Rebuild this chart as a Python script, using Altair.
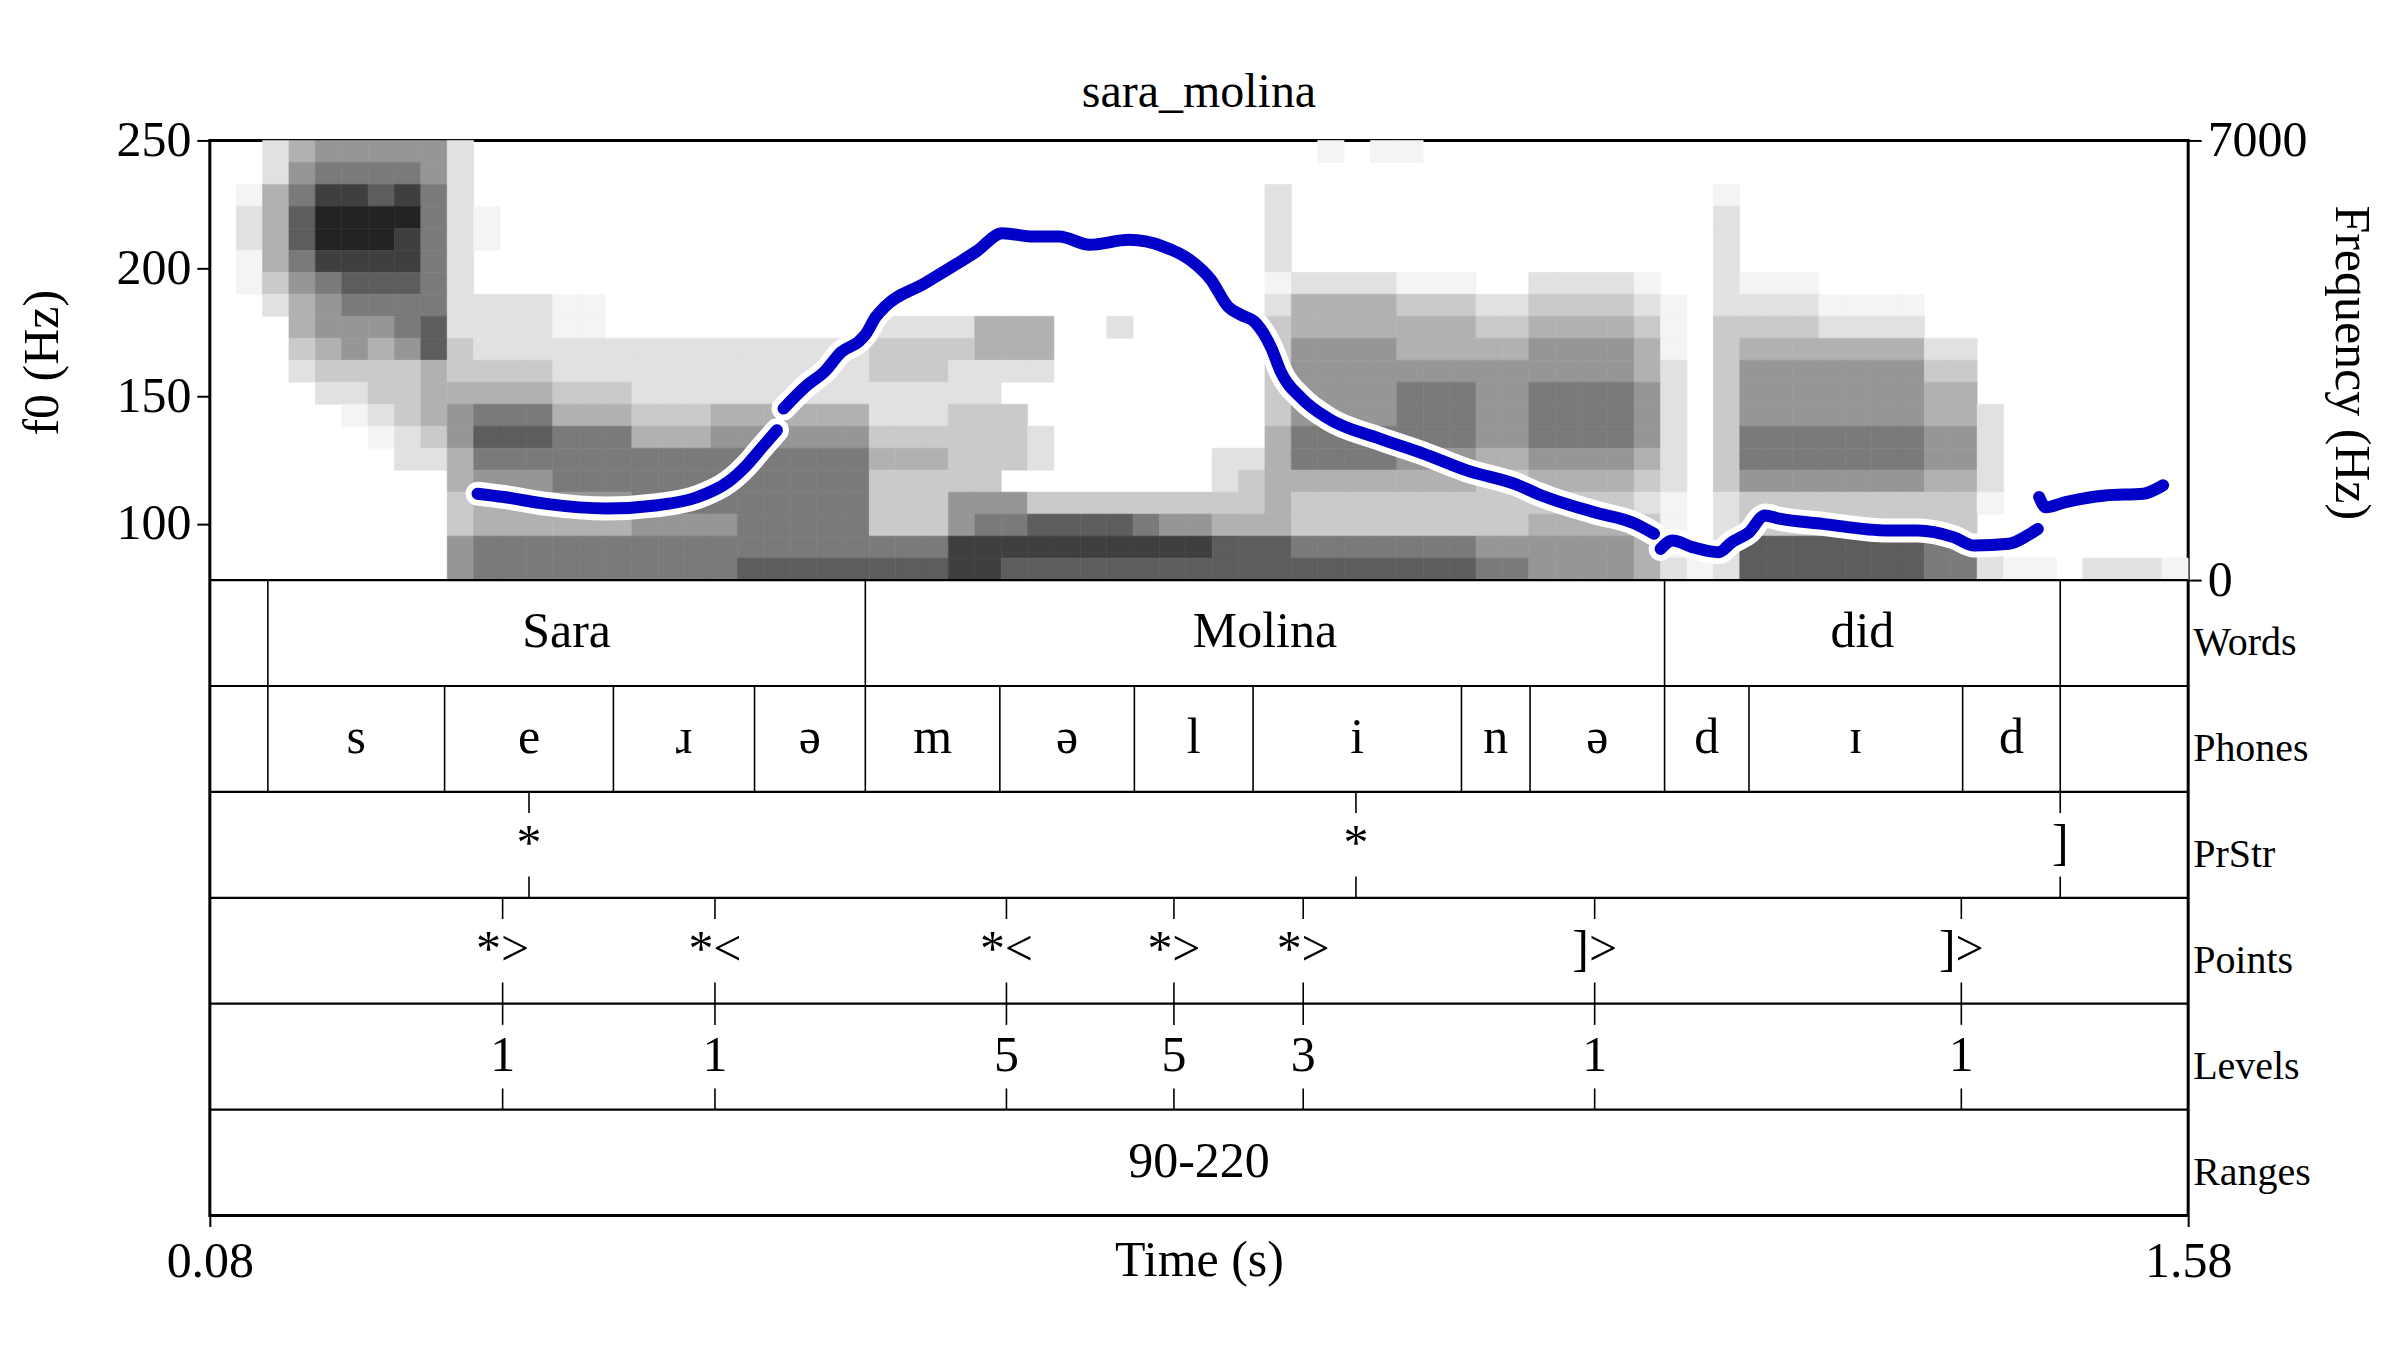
import altair as alt
import pandas as pd

# ---------------- layout constants ----------------
T_START, T_END = 0.08, 1.58
W, H = 1980, 1076
PANEL_H = 440          # pitch / spectrogram panel height (px)
TIER_H = 106           # height of one annotation tier (px)
F0_MIN, F0_MAX = 78, 250
SPEC_MAX = 7000
FONT = "Liberation Serif"
BLUE = "#0000c8"

# ---------------- pitch contour (time s, f0 Hz) ----------------
seg1_t = [0.283, 0.303, 0.335, 0.381, 0.418, 0.450, 0.473, 0.487, 0.500, 0.510]
seg1_f = [111.8, 110.5, 107.8, 106.0, 107.2, 110.5, 116.4, 122.9, 130.7, 136.6]

seg2_t = [0.515, 0.533, 0.546, 0.559, 0.572, 0.577, 0.585, 0.592, 0.622, 0.645,
          0.661, 0.681, 0.704, 0.724, 0.747, 0.777, 0.803, 0.823, 0.839, 0.852,
          0.862, 0.872, 0.885, 0.892, 0.908, 0.928, 0.967, 1.000, 1.033, 1.072,
          1.086, 1.129, 1.161, 1.175]
seg2_f = [145.1, 154.3, 159.5, 167.3, 171.3, 174.0, 181.0, 185.0, 194.1, 201.3,
          206.5, 213.7, 212.4, 212.4, 209.2, 211.1, 208.5, 203.3, 195.5, 185.0,
          181.7, 179.1, 168.6, 159.5, 149.0, 141.2, 133.3, 127.5, 120.9, 115.1,
          111.9, 104.6, 100.0, 96.1]

seg3_t = [1.180, 1.189, 1.204, 1.224, 1.234, 1.247, 1.259, 1.270, 1.303, 1.352,
          1.375, 1.402, 1.418, 1.444, 1.458, 1.466]
seg3_f = [90.2, 93.5, 90.9, 88.9, 92.8, 96.7, 103.3, 102.0, 100.0, 97.4,
          97.4, 94.8, 91.5, 92.2, 95.4, 98.0]

seg4_t = [1.467, 1.472, 1.487, 1.517, 1.546, 1.561]
seg4_f = [110.5, 106.5, 108.5, 111.1, 111.8, 115.1]

# ---------------- spectrogram darkness grid (0-9) ----------------
# columns: 0.02 s bins from 0.08 s; rows: 350 Hz bins, top row = 6650-7000 Hz
SPEC_DT = 0.02
SPEC_DF = 350
spec_rows = [
    "00245 55552 00000 00000 00000 00000 00000 00000 00101 10000 00000 00000 00000 00000 00000",
    "00256 66652 00000 00000 00000 00000 00000 00000 00000 00000 00000 00000 00000 00000 00000",
    "01468 87862 00000 00000 00000 00000 00000 00000 20000 00000 00000 00100 00000 00000 00000",
    "02479 99962 10000 00000 00000 00000 00000 00000 20000 00000 00000 00200 00000 00000 00000",
    "02479 99862 10000 00000 00000 00000 00000 00000 20000 00000 00000 00200 00000 00000 00000",
    "01468 88862 00000 00000 00000 00000 00000 00000 20000 00000 00000 00200 00000 00000 00000",
    "01356 77762 00000 00000 00000 00000 00000 00000 12222 11100 22221 00211 10000 00000 00000",
    "00245 66662 22211 00000 00000 00000 00000 00000 24444 33322 33332 10222 21111 00000 00000",
    "00045 55672 22211 00000 00000 22224 44002 00000 34444 44433 44443 10333 32222 00000 00000",
    "00034 54573 22222 22222 22222 33334 44000 00000 35555 44444 55554 10344 44444 22000 00000",
    "00023 33343 33322 22222 22222 33322 22000 00000 35555 55555 55554 20355 55555 33000 00000",
    "00002 23344 44433 32222 22222 22222 00000 00000 35555 66655 66665 20355 55555 44000 00000",
    "00000 12345 66644 43334 44444 22233 30000 00000 35555 66655 66665 20355 55555 44200 00000",
    "00000 01235 77766 64445 55555 33333 32000 00000 46666 66655 66665 20366 66666 55200 00000",
    "00000 00224 66666 66666 66666 44433 32000 00022 46666 55544 55554 20366 66666 55200 00000",
    "00000 00004 55566 66666 66666 33333 00000 00023 44444 44433 44443 20355 55555 44200 00000",
    "00000 00003 44455 56666 66666 33355 53333 33333 43333 33333 33332 10233 33333 33100 00000",
    "00000 00003 44444 45555 66666 33356 67777 65544 43333 33333 44443 10233 33333 33000 00000",
    "00000 00005 66666 66666 66666 66688 88888 88877 76666 66655 55554 10277 77777 66200 00000",
    "00000 00005 66666 66666 77777 77788 77777 77777 77777 77766 55554 21277 77777 66211 02221",
]

# ---------------- TextGrid tiers ----------------
tier_names = ["Words", "Phones", "PrStr", "Points", "Levels", "Ranges"]

word_bounds = [0.124, 0.577, 1.183, 1.483]
word_labels = ["", "Sara", "Molina", "did", ""]

phone_bounds = [0.124, 0.258, 0.386, 0.493, 0.577, 0.679, 0.781, 0.871,
                1.029, 1.081, 1.183, 1.247, 1.409, 1.483]
phone_labels = ["", "s", "e", "ɹ", "ə", "m", "ə", "l", "i", "n", "ə",
                "d", "ɪ", "d", ""]

prstr_times = [0.322, 0.949, 1.483]
prstr_labels = ["*", "*", "]"]

point_times = [0.302, 0.463, 0.684, 0.811, 0.909, 1.130, 1.408]
point_labels = ["*>", "*<", "*<", "*>", "*>", "]>", "]>"]
level_labels = ["1", "1", "5", "5", "3", "1", "1"]

range_bounds = []
range_labels = ["90-220"]

# ---------------- build tables ----------------
pitch_rows = []
for sid, (ts, fs) in enumerate([(seg1_t, seg1_f), (seg2_t, seg2_f),
                                (seg3_t, seg3_f), (seg4_t, seg4_f)]):
    for t, f in zip(ts, fs):
        pitch_rows.append({"t": t, "f": f, "seg": sid})
pitch_df = pd.DataFrame(pitch_rows)

spec_cells = []
for r, s in enumerate(spec_rows):
    s = s.replace(" ", "")
    assert len(s) == 75, (r, len(s))
    f_hi = SPEC_MAX - r * SPEC_DF
    for k, ch in enumerate(s):
        d = int(ch)
        if d > 0:
            spec_cells.append({"t0": T_START + k * SPEC_DT, "t1": T_START + (k + 1) * SPEC_DT,
                               "f0": f_hi - SPEC_DF, "f1": f_hi, "d": d})
spec_df = pd.DataFrame(spec_cells)

# tier i (0 = Words) occupies [5-i, 6-i] in tier units
def tier_bottom(i):
    return 5 - i

lines, labels = [], []

def add_interval_tier(i, bounds, labs):
    edges = [T_START] + bounds + [T_END]
    for b in bounds:
        lines.append({"t": b, "y0": tier_bottom(i), "y1": tier_bottom(i) + 1})
    for a, b, lab in zip(edges[:-1], edges[1:], labs):
        if lab:
            labels.append({"t": (a + b) / 2, "y": tier_bottom(i) + 0.5, "label": lab})

def add_point_tier(i, times, labs):
    for t, lab in zip(times, labs):
        lines.append({"t": t, "y0": tier_bottom(i) + 0.8, "y1": tier_bottom(i) + 1})
        lines.append({"t": t, "y0": tier_bottom(i), "y1": tier_bottom(i) + 0.2})
        labels.append({"t": t, "y": tier_bottom(i) + 0.5, "label": lab})

add_interval_tier(0, word_bounds, word_labels)
add_interval_tier(1, phone_bounds, phone_labels)
add_point_tier(2, prstr_times, prstr_labels)
add_point_tier(3, point_times, point_labels)
add_point_tier(4, point_times, level_labels)
add_interval_tier(5, range_bounds, range_labels)

lines_df = pd.DataFrame(lines)
labels_df = pd.DataFrame(labels)
sep_df = pd.DataFrame({"y": [1, 2, 3, 4, 5, 6]})
names_df = pd.DataFrame({"y": [tier_bottom(i) + 0.5 for i in range(6)], "name": tier_names})
title_df = pd.DataFrame({"title": ["sara_molina"]})

# ---------------- scales & axes ----------------
xs = alt.Scale(domain=[T_START, T_END], nice=False, zero=False)
x_axis = alt.Axis(title="Time (s)", values=[T_START, T_END], format=".2f", orient="bottom",
                  tickSize=11, labelPadding=10, labelFlush=False, titleY=60,
                  titleBaseline="alphabetic", grid=False, domain=False)

def X(field):
    return alt.X(f"{field}:Q", scale=xs, axis=x_axis)

ys_pitch = alt.Scale(domain=[F0_MAX - H * (F0_MAX - F0_MIN) / PANEL_H, F0_MAX], nice=False, zero=False)
ys_spec = alt.Scale(domain=[SPEC_MAX - H * SPEC_MAX / PANEL_H, SPEC_MAX], nice=False, zero=False)
ys_tier = alt.Scale(domain=[0, 6 + PANEL_H / TIER_H], nice=False, zero=False)

left_axis = alt.Axis(orient="left", values=[100, 150, 200, 250], title="f0 (Hz)",
                     titleX=-167, titleY=222, titleAngle=270, titleBaseline="middle",
                     titleAlign="center", tickSize=13, labelPadding=6, grid=False, domain=False)
right_axis = alt.Axis(orient="right", values=[0, 7000], title="Frequency (Hz)", format="d",
                      titleX=162, titleY=222, titleAngle=90, titleBaseline="middle",
                      titleAlign="center", tickSize=13, labelPadding=6, grid=False, domain=False)

gray = alt.Scale(type="pow", exponent=1.4, domain=[0, 10], range=["#ffffff", "#000000"])

# ---------------- layers ----------------
spec = alt.Chart(spec_df).mark_rect(strokeWidth=0.6).encode(
    x=X("t0"), x2="t1",
    y=alt.Y("f0:Q", scale=ys_spec, axis=right_axis), y2="f1",
    fill=alt.Fill("d:Q", scale=gray, legend=None),
    stroke=alt.Stroke("d:Q", scale=gray, legend=None),
)

halo = alt.Chart(pitch_df).mark_line(color="white", strokeWidth=24, strokeCap="round",
                                     strokeJoin="round", interpolate="monotone").encode(
    x=X("t"), y=alt.Y("f:Q", scale=ys_pitch, axis=left_axis),
    detail="seg:N", order="t:Q",
)
pitch = alt.Chart(pitch_df).mark_line(color=BLUE, strokeWidth=12, strokeCap="round",
                                      strokeJoin="round", interpolate="monotone").encode(
    x=X("t"), y=alt.Y("f:Q", scale=ys_pitch, axis=None),
    detail="seg:N", order="t:Q",
)

seps = alt.Chart(sep_df).mark_rule(color="black", strokeWidth=2.2).encode(
    y=alt.Y("y:Q", scale=ys_tier, axis=None), x=alt.value(0), x2=alt.value(W),
)
bounds = alt.Chart(lines_df).mark_rule(color="black", strokeWidth=1.6).encode(
    x=X("t"), y=alt.Y("y0:Q", scale=ys_tier, axis=None), y2="y1",
)
tier_text = alt.Chart(labels_df).mark_text(font=FONT, fontSize=50, baseline="alphabetic",
                                           dy=14, color="black").encode(
    x=X("t"), y=alt.Y("y:Q", scale=ys_tier, axis=None), text="label:N",
)
names = alt.Chart(names_df).mark_text(font=FONT, fontSize=40, baseline="alphabetic", align="left",
                                      dy=22, color="black").encode(
    x=alt.value(W + 5), y=alt.Y("y:Q", scale=ys_tier, axis=None), text="name:N",
)
title = alt.Chart(title_df).mark_text(font=FONT, fontSize=48, baseline="alphabetic",
                                      color="black").encode(
    x=alt.value(W / 2), y=alt.value(-33), text="title:N",
)

chart = alt.layer(spec, halo, pitch, seps, bounds, tier_text, names, title).resolve_scale(
    y="independent"
).properties(
    width=W, height=H,
    padding={"left": 202, "top": 132, "right": 204, "bottom": 100},
    autosize=alt.AutoSizeParams(type="none"),
    background="white",
).configure_axis(
    labelFont=FONT, titleFont=FONT, labelFontSize=50, titleFontSize=50,
    titleFontWeight="normal", labelColor="black", titleColor="black",
    tickColor="black", tickWidth=2,
).configure_view(stroke="black", strokeWidth=3)

chart.save("out.html", embed_options={"renderer": "svg", "actions": False})
